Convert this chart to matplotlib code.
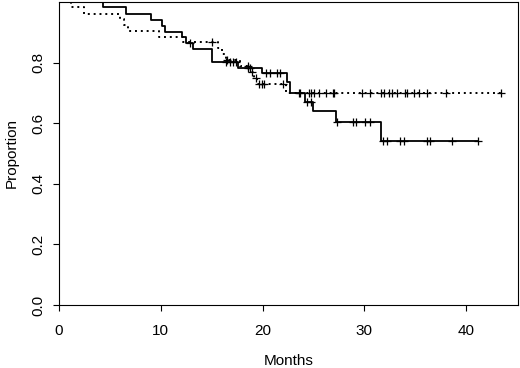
import matplotlib
matplotlib.use("Agg")
import matplotlib.pyplot as plt

plt.rcParams['font.family'] = ['Liberation Sans', 'DejaVu Sans']

# ---- Solid group: event step times and survival after each step ----
solid_times = [0, 4.3, 6.6, 9.0, 10.1, 10.4, 12.1, 12.5, 13.2, 15.0, 17.6, 19.9,
               22.4, 22.7, 24.2, 25.0, 27.2, 31.6]
solid_surv = [1.0, 0.982, 0.961, 0.941, 0.921, 0.902, 0.886, 0.864, 0.844, 0.803,
              0.783, 0.765, 0.735, 0.700, 0.671, 0.641, 0.603, 0.542]
solid_end = 41.2
solid_cens_t = [12.9, 16.4, 16.8, 17.1, 17.4, 18.6, 18.8, 20.3, 20.7, 21.4, 21.7,
                23.6, 24.4, 24.8, 27.3, 28.9, 29.2, 30.1, 30.6,
                31.8, 32.2, 33.5, 33.9, 36.2, 36.5, 38.6, 41.2]
solid_cens_s = [0.864, 0.803, 0.803, 0.803, 0.803, 0.783, 0.783, 0.765, 0.765, 0.765, 0.765,
                0.700, 0.671, 0.671, 0.603, 0.603, 0.603, 0.603, 0.603,
                0.542, 0.542, 0.542, 0.542, 0.542, 0.542, 0.542, 0.542]

# ---- Dotted group ----
dot_times = [0, 1.2, 2.5, 6.0, 6.4, 6.8, 9.8, 12.2, 15.6, 16.0, 16.4, 17.8, 18.9,
             19.2, 19.5, 22.3]
dot_surv = [1.0, 0.982, 0.962, 0.943, 0.924, 0.905, 0.886, 0.867, 0.848, 0.829, 0.810,
            0.790, 0.768, 0.748, 0.728, 0.700]
dot_end = 43.4
dot_cens_t = [15.0, 16.5, 18.6, 19.0, 19.4, 19.7, 19.9, 20.1, 22.0,
              23.7, 24.6, 24.8, 25.1, 25.5, 26.2, 26.9, 27.0, 29.8, 30.6, 31.6, 31.9,
              32.4, 32.7, 33.2, 34.0, 34.2, 34.9, 35.4, 36.2, 38.0, 43.4]
dot_cens_s = [0.867, 0.810, 0.790, 0.768, 0.748, 0.728, 0.728, 0.728, 0.728] + [0.700] * 22

x_ticks = [0, 10, 20, 30, 40]
y_ticks = [0.0, 0.2, 0.4, 0.6, 0.8]
y_ticklabels = ["0.0", "0.2", "0.4", "0.6", "0.8"]

fig = plt.figure(figsize=(5.2, 3.68), dpi=100)
ax = fig.add_axes([59 / 520, 1 - 305 / 368, (518 - 59) / 520, (305 - 2) / 368])

ax.step(solid_times + [solid_end], solid_surv + [solid_surv[-1]], where='post',
        color='black', lw=1.3, solid_capstyle='butt')
ax.step(dot_times + [dot_end], dot_surv + [dot_surv[-1]], where='post',
        color='black', lw=1.4, linestyle=(0, (1, 2)))
ax.plot(solid_cens_t, solid_cens_s, linestyle='none', marker='+', color='black',
        markersize=6, markeredgewidth=0.9)
ax.plot(dot_cens_t, dot_cens_s, linestyle='none', marker='+', color='black',
        markersize=6, markeredgewidth=0.9)

ax.set_xlim(0, 45.1)
ax.set_ylim(0, 1.0)
ax.set_xticks(x_ticks)
ax.set_yticks(y_ticks)
ax.set_yticklabels(y_ticklabels, rotation=90, va='center')
ax.tick_params(axis='both', direction='out', length=4, width=0.8, labelsize=11,
               color='black')
ax.tick_params(axis='x', pad=10)
ax.tick_params(axis='y', pad=6)
for s in ax.spines.values():
    s.set_linewidth(0.8)
    s.set_color('black')

ax.set_xlabel("Months", fontsize=11, labelpad=11.5)
ax.set_ylabel("Proportion", fontsize=11, labelpad=9)

fig.savefig("out.png", dpi=100)
